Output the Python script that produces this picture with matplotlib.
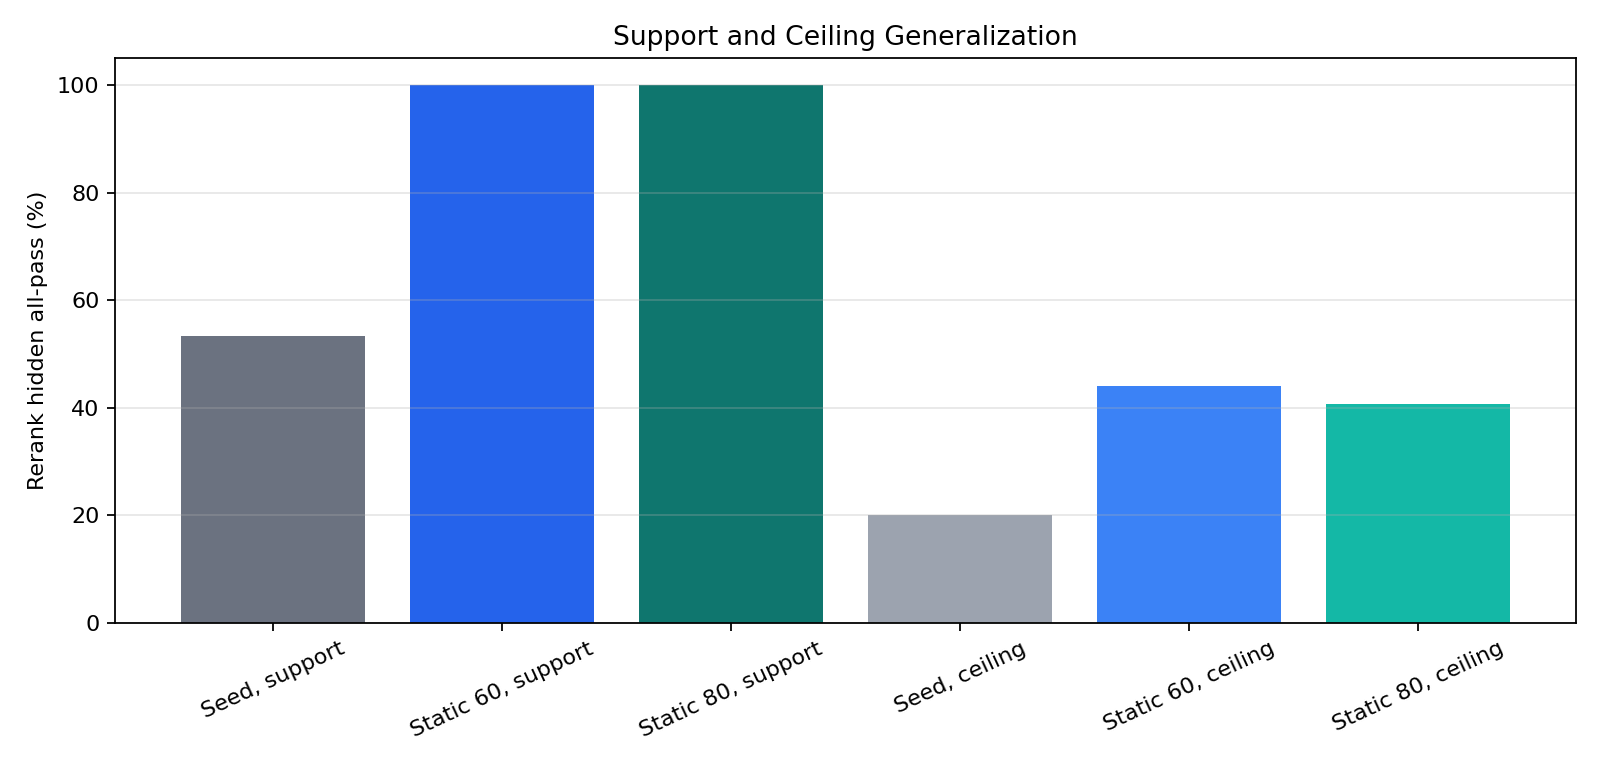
import matplotlib
matplotlib.use('Agg')
import matplotlib.pyplot as plt

# Values
labels = ['Seed, support', 'Static 60, support', 'Static 80, support',
          'Seed, ceiling', 'Static 60, ceiling', 'Static 80, ceiling']
values = [53.3, 100.0, 100.0, 20.0, 44.1, 40.7]
colors = ['#6b7280', '#2563eb', '#0f766e', '#9ca3af', '#3b82f6', '#14b8a6']

fig, ax = plt.subplots(figsize=(10, 4.8), dpi=160)
ax.bar(labels, values, color=colors)
ax.set_title('Support and Ceiling Generalization')
ax.set_ylabel('Rerank hidden all-pass (%)')
ax.grid(axis='y', alpha=0.3)
plt.setp(ax.get_xticklabels(), rotation=25)
fig.subplots_adjust(left=115 / 1600, right=1576 / 1600,
                    top=1 - 58 / 768, bottom=1 - 623 / 768)
fig.savefig('out.png')
